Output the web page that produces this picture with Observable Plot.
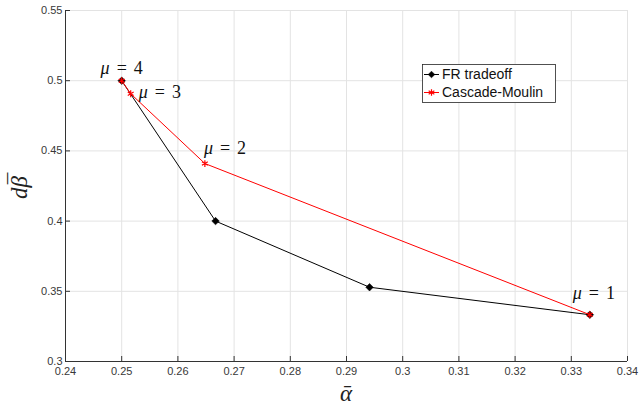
<!DOCTYPE html>
<html><head><meta charset="utf-8">
<script src="https://cdn.jsdelivr.net/npm/d3@7"></script>
<script src="https://cdn.jsdelivr.net/npm/@observablehq/plot@0.6"></script>
<style>body{margin:0;background:#fff}</style>
</head><body><div id="chart"></div>
<script>
const frAlpha = [0.25, 0.2667, 0.2941, 0.3333];
const frBeta  = [0.5, 0.4, 0.3529, 0.3333];
const cmAlpha = [0.25, 0.2516, 0.2648, 0.3333];
const cmBeta  = [0.5, 0.4907, 0.441, 0.3333];
const muLabels = ["μ = 4", "μ = 3", "μ = 2", "μ = 1"];
const xTicks = [0.24,0.25,0.26,0.27,0.28,0.29,0.3,0.31,0.32,0.33,0.34];
const yTicks = [0.3,0.35,0.4,0.45,0.5,0.55];
const seriesNames = ["FR tradeoff", "Cascade-Moulin"];

const fr = frAlpha.map((a,i)=>({x:a,y:frBeta[i]}));
const cm = cmAlpha.map((a,i)=>({x:a,y:cmBeta[i],label:muLabels[i]}));
const ann = [
  {...cm[0], dx:0, dy:-7, anchor:"middle"},
  {...cm[1], dx:8, dy:4, anchor:"start"},
  {...cm[2], dx:-1, dy:-10, anchor:"start"},
  {...cm[3], dx:4, dy:-16, anchor:"middle"}
];

const W=641, H=405;
const plot = Plot.plot({
  width: W, height: H,
  marginLeft: 65, marginRight: 14, marginTop: 10, marginBottom: 44,
  style: {fontFamily: "Liberation Sans, Arial, sans-serif", fontSize: "11px", color: "#404040", background: "#fff"},
  x: {domain: [0.24, 0.34], ticks: xTicks, tickFormat: d=>String(d), label: null},
  y: {domain: [0.3, 0.55], ticks: yTicks, tickFormat: d=>String(d), label: null},
  marks: [
    Plot.gridX(xTicks, {stroke: "#e3e3e3", strokeOpacity: 1}),
    Plot.gridY(yTicks, {stroke: "#e3e3e3", strokeOpacity: 1}),
    Plot.axisX(xTicks, {tickSize: -5, tickPadding: 11, stroke: "#333", fill: "#383838", tickFormat: d=>String(d)}),
    Plot.axisY(yTicks, {tickSize: -5, tickPadding: 8, stroke: "#333", fill: "#383838", tickFormat: d=>String(d)}),
    Plot.ruleX([0.24], {stroke: "#333"}),
    Plot.ruleY([0.3], {stroke: "#333"}),
    Plot.line(fr, {x:"x", y:"y", stroke:"black", strokeWidth:1}),
    Plot.dot(fr, {x:"x", y:"y", symbol:"diamond2", fill:"black", stroke:"black", strokeWidth:0.5, r:3.4}),
    Plot.line(cm, {x:"x", y:"y", stroke:"#ff0000", strokeWidth:1}),
    Plot.dot(cm, {x:"x", y:"y", symbol:"asterisk", stroke:"#ff0000", r:3.2, strokeWidth:1.2}),
    ...ann.map(a => Plot.text([a], {x:"x", y:"y", text:"label", dx:a.dx, dy:a.dy, textAnchor:a.anchor, lineAnchor:"bottom", fontSize:18, fontFamily:"Liberation Serif, DejaVu Serif, serif", fill:"#111", className:"mu"}))
  ]
});
document.getElementById("chart").append(plot);

const svg = d3.select(plot);
// italicize mu, widen spacing like LaTeX
svg.selectAll("g.mu text").each(function(){
  const t = d3.select(this);
  const s = t.text();
  t.text("");
  t.style("word-spacing","2.5px");
  t.append("tspan").attr("font-style","italic").text(s[0]);
  t.append("tspan").text(s.slice(1));
});

// axis titles
svg.append("text").attr("x", 346).attr("y", 401).attr("text-anchor","middle")
  .attr("font-family","Liberation Serif, serif").attr("font-style","italic").attr("font-size",23).attr("fill","#222")
  .text("\u03B1\u0304");
const yl = svg.append("text").attr("transform","translate(27,199) rotate(-90)").attr("text-anchor","start")
  .attr("font-family","Liberation Serif, serif").attr("font-style","italic").attr("font-size",23).attr("fill","#222");
yl.append("tspan").text("d\u03B2");
yl.append("tspan").attr("dx",-10).attr("dy",-2).text("\u00AF");

// legend
const lg = svg.append("g").attr("text-anchor","start");
lg.append("rect").attr("x",422.5).attr("y",64.5).attr("width",133).attr("height",38).attr("fill","#fff").attr("stroke","#262626").attr("stroke-width",0.8);
const rows = [{c:"black", sym:d3.symbolSquare, fill:true, rot:45}, {c:"#ff0000", sym:d3.symbolAsterisk, fill:false, rot:0}];
rows.forEach((r,i)=>{
  const cy = 74.5 + i*18;
  lg.append("line").attr("x1",424).attr("x2",439).attr("y1",cy).attr("y2",cy).attr("stroke",r.c);
  lg.append("path").attr("transform",`translate(431.5,${cy}) rotate(${r.rot})`).attr("d", d3.symbol(r.sym, r.fill?22:30)())
    .attr("fill", r.fill? r.c : "none").attr("stroke", r.c).attr("stroke-width", r.fill?0.5:1.2);
  lg.append("text").attr("x",442).attr("y",cy).attr("dy","0.35em").attr("text-anchor","start").attr("font-family","Liberation Sans, Arial, sans-serif")
    .attr("font-size",14).attr("fill","#111").text(seriesNames[i]);
});
</script></body></html>
